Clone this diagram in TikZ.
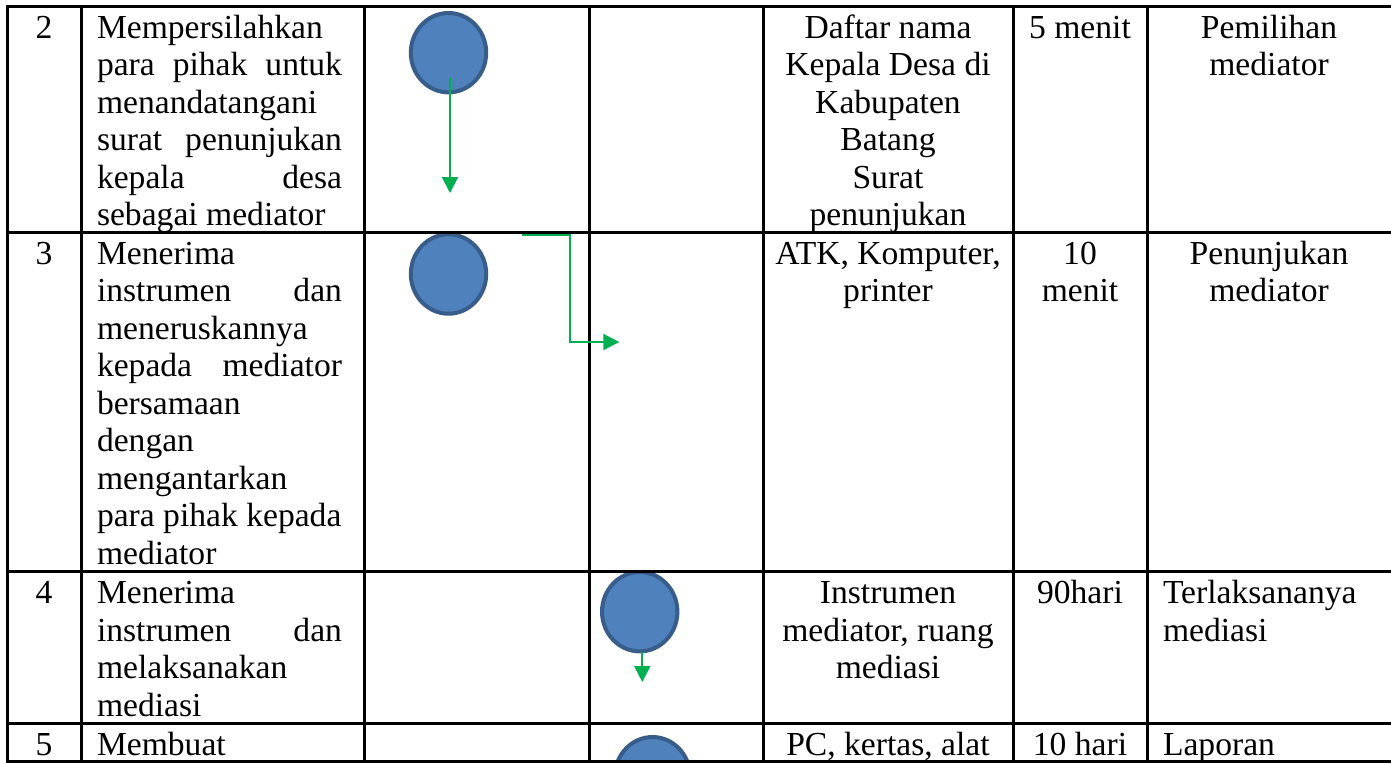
\documentclass[tikz,border=0pt]{standalone}
\usepackage{fontspec}
\setmainfont{Liberation Serif}
\usetikzlibrary{arrows.meta,shapes.geometric}
\definecolor{stepfill}{HTML}{4F81BD}
\definecolor{stepline}{HTML}{385D8A}
\definecolor{flowgreen}{HTML}{00B050}
% a fully justified line of the description column
\newcommand{\jl}[1]{\makebox[122.5pt][s]{#1}}
\begin{document}
\begin{tikzpicture}[x=0.5pt,y=-0.5pt,
  grid/.style={line width=1.5pt, black, line cap=rect},
  txt/.style={inner sep=0pt, outer sep=0pt, font=\fontsize{16.8pt}{18.75pt}\selectfont},
  stepnode/.style={ellipse, draw=stepline, fill=stepfill, line width=2pt,
    minimum width=37.7pt, minimum height=39.7pt, inner sep=0pt},
  flow/.style={draw=flowgreen, line width=1pt, -{Triangle[length=8pt,width=8pt]}}]
\useasboundingbox (0,0) rectangle (1391,762);
\clip (0,0) rectangle (1391,762);

% process symbols
\node[stepnode] (s2) at (448.5,52.7) {};
\node[stepnode] (s3) at (448.5,274) {};
\node[stepnode] (s4) at (639.7,611.7) {};
\node[stepnode] (s5) at (652.5,776.7) {};

% table rules
\foreach \yy in {6,232,571.5,723,761.5}
  \draw[grid] (7,\yy) -- (1395,\yy);
\foreach \xx in {7,81,364,589,763,1013,1147}
  \draw[grid] (\xx,6) -- (\xx,761.5);

% flow connectors
\coordinate (a2s) at (450,78);
\coordinate (a2e) at (450,193);
\draw[flow] (a2s) -- (a2e);
\coordinate (a3s) at (521.7,235);
\coordinate (a3e) at (619.3,342);
\draw[flow] (a3s) -- (570,235) -- (570,342) -- (a3e);
\coordinate (a4e) at (642.3,682);
\draw[flow] (642.3,652) -- (a4e);

% step numbers
\node[txt, anchor=base] (n2) at (44,38) {2};
\node[txt, anchor=base] (n3) at (44,264) {3};
\node[txt, anchor=base] (n4) at (44,603.5) {4};
\node[txt, anchor=base] (n5) at (44,755) {5};

% descriptions
\foreach \s [count=\i] in {Mempersilahkan, \jl{para pihak untuk}, menandatangani,
    \jl{surat penunjukan}, \jl{kepala desa}, sebagai mediator}
  \node[txt, anchor=base west] (d2-\i) at (97,{38+(\i-1)*37.5}) {\s};
\foreach \s [count=\i] in {Menerima, \jl{instrumen dan}, meneruskannya,
    \jl{kepada mediator}, bersamaan, dengan, mengantarkan, para pihak kepada, mediator}
  \node[txt, anchor=base west] (d3-\i) at (97,{264+(\i-1)*37.5}) {\s};
\foreach \s [count=\i] in {Menerima, \jl{instrumen dan}, melaksanakan, mediasi}
  \node[txt, anchor=base west] (d4-\i) at (97,{603.5+(\i-1)*37.5}) {\s};
\node[txt, anchor=base west] (d5-1) at (97,755) {Membuat};

% resources
\foreach \s [count=\i] in {Daftar nama, Kepala Desa di, Kabupaten, Batang, Surat, penunjukan}
  \node[txt, anchor=base] (r2-\i) at (888,{38+(\i-1)*37.5}) {\s};
\foreach \s [count=\i] in {{ATK, Komputer,}, printer}
  \node[txt, anchor=base] (r3-\i) at (888,{264+(\i-1)*37.5}) {\s};
\foreach \s [count=\i] in {Instrumen, {mediator, ruang}, mediasi}
  \node[txt, anchor=base] (r4-\i) at (888,{603.5+(\i-1)*37.5}) {\s};
\node[txt, anchor=base] (r5-1) at (888,755) {PC, kertas, alat};

% time
\node[txt, anchor=base] (w2-1) at (1080,38) {5 menit};
\node[txt, anchor=base] (w3-1) at (1080,264) {10};
\node[txt, anchor=base] (w3-2) at (1080,301.5) {menit};
\node[txt, anchor=base] (w4-1) at (1080,603.5) {90hari};
\node[txt, anchor=base] (w5-1) at (1080,755) {10 hari};

% outputs
\node[txt, anchor=base] (o2-1) at (1269,38) {Pemilihan};
\node[txt, anchor=base] (o2-2) at (1269,75.5) {mediator};
\node[txt, anchor=base] (o3-1) at (1269,264) {Penunjukan};
\node[txt, anchor=base] (o3-2) at (1269,301.5) {mediator};
\node[txt, anchor=base west] (o4-1) at (1163,603.5) {Terlaksananya};
\node[txt, anchor=base west] (o4-2) at (1163,641) {mediasi};
\node[txt, anchor=base west] (o5-1) at (1163,755) {Laporan};
\end{tikzpicture}
\end{document}
